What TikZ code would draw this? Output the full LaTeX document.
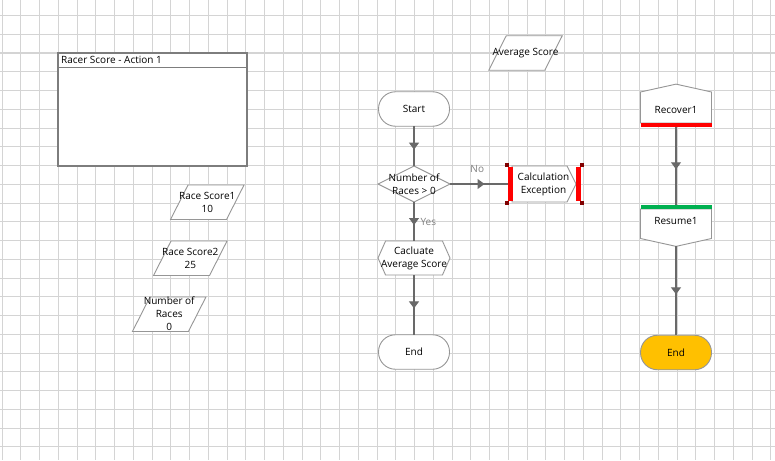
\documentclass[tikz,border=0pt]{standalone}
\usepackage{fontspec}
\setmainfont{Open Sans}
\usepackage{xcolor}
\usetikzlibrary{arrows.meta,positioning,shapes.geometric,shapes.symbols,decorations.markings}
\definecolor{GridGray}{RGB}{212,212,212}
\definecolor{ShapeGray}{RGB}{150,150,150}
\definecolor{FrameGray}{RGB}{125,125,125}
\definecolor{FlowGray}{RGB}{105,105,105}
\definecolor{LabelGray}{RGB}{128,128,128}
\definecolor{BarRed}{RGB}{255,0,0}
\definecolor{BarGreen}{RGB}{0,176,80}
\definecolor{HandleRed}{RGB}{128,0,0}
\definecolor{EndOrange}{RGB}{255,192,0}

\tikzset{
  txt/.style={font=\fontsize{10}{13}\selectfont, align=center, inner sep=0pt},
  lbl/.style={font=\fontsize{10}{13}\selectfont, text=LabelGray, inner sep=0pt},
  base/.style={draw=ShapeGray, line width=0.9pt, fill=white, inner sep=0pt, outer sep=0pt},
  terminal/.style={base, rectangle, rounded corners=17pt, minimum width=71pt, minimum height=34.5pt},
  pics/dataio/.style={code={
    \draw[base] (-19.25,-17.25) -- (36.75,-17.25) -- (19.25,17.25) -- (-36.75,17.25) -- cycle;}},
  decision/.style={base, diamond, aspect=2, minimum width=72pt, minimum height=36pt},
  process/.style={base, signal, signal to=east and west, signal pointer angle=132,
    minimum width=72pt, minimum height=34pt},
  exception/.style={base, signal, signal to=east, signal from=nowhere, signal pointer angle=127,
    minimum width=64pt, minimum height=36pt},
  recovery/.style={base, signal, signal pointer angle=155, minimum width=71pt},
  bar/.style={rectangle, inner sep=0pt, outer sep=0pt, minimum width=71pt, minimum height=4pt},
  exbar/.style={rectangle, fill=BarRed, inner sep=0pt, minimum width=5pt, minimum height=33.5pt},
  handle/.style={rectangle, fill=HandleRed, inner sep=0pt, minimum size=4pt},
  flow/.style={draw=FlowGray, line width=1.2pt, postaction={decorate},
    decoration={markings, mark=at position 0.5 with
      {\arrow[xshift=3.5pt, FlowGray]{Triangle[width=10pt,length=7pt]}}}}
}

\begin{document}
\begin{tikzpicture}[x=1pt, y=-1pt]
  \useasboundingbox (0,0) rectangle (775,460);
  \fill[white] (0,0) rectangle (775,460);

  % background grid
  \foreach \gx in {0,...,41}
    \draw[GridGray, line width=1pt] ({2+\gx*18.75},0) -- ({2+\gx*18.75},460);
  \foreach \gy in {0,...,23}
    \draw[GridGray, line width=1pt] (0,{15.5+\gy*18.75}) -- (775,{15.5+\gy*18.75});

  % action group
  \node[base, draw=FrameGray, line width=1.2pt, rectangle,
    minimum width=189pt, minimum height=113pt] (group) at (152.5,109.5) {};
  \node[txt, anchor=north west, inner xsep=3pt, minimum height=14pt] (grouptitle)
    at (group.north west) {Racer Score - Action 1};
  \draw[FrameGray, line width=1.2pt] (grouptitle.south -| group.west) -- (grouptitle.south -| group.east);

  % data
  \pic at (207.3,202.2) {dataio};
  \node[txt] (score1) at (207.3,202.2) {Race Score1\\10};
  \pic at (190.3,258.2) {dataio};
  \node[txt] (score2) at (190.3,258.2) {Race Score2\\25};
  \pic at (169.2,314.2) {dataio};
  \node[txt] (races) at (169.2,314.2) {Number of\\Races\\0};
  \pic at (525.5,53) {dataio};
  \node[txt] (average) at (525.5,53) {Average Score};

  % main flow
  \node[terminal, label={[txt]center:Start}] (start) at (414,109) {};
  \node[decision, label={[txt]center:Number of\\Races > 0}] (check) at (414,184) {};
  \node[exception, anchor=west] (calcexc) at (512,184) {};
  \node[txt] (calcexctext) at (543.5,184) {Calculation\\Exception};
  \node[process, label={[txt]center:Cacluate\\Average Score}] (calc) at (414,258) {};
  \node[terminal, label={[txt]center:End}] (end) at (414,352) {};

  % recovery flow
  \node[recovery, signal to=north, minimum height=31pt, anchor=south] (recover) at (676,123) {};
  \node[txt] at (676,110) {Recover1};
  \node[bar, fill=BarRed, below=0pt of recover] (recoverbar) {};
  \node[recovery, signal to=south, minimum height=29.5pt, anchor=north] (resume) at (676,209) {};
  \node[txt] at (676,221) {Resume1};
  \node[bar, fill=BarGreen, above=0.5pt of resume] (resumebar) {};
  \node[terminal, fill=EndOrange, label={[txt]center:End}] (endrec) at (676,352.5) {};

  \draw[flow] (start) -- (check);
  \draw[flow] (check) -- node[lbl, above=11pt, pos=0.44] {No} (calcexc);
  \draw[flow] (check) -- node[lbl, right=6pt, pos=0.5] {Yes} (calc);
  \draw[flow] (calc) -- (end);
  \draw[flow] (recoverbar) -- (resumebar);
  \draw[flow] (resume) -- (endrec);

  % selection marks
  \node[exbar] (exbarl) at (510.8,184) {};
  \node[exbar] (exbarr) at (578.2,184) {};
  \node[handle] (hnw) at (506.7,165) {};
  \node[handle] (hsw) at (506.7,203.3) {};
  \node[handle] (hne) at (582.3,165) {};
  \node[handle] (hse) at (582.3,203.3) {};
\end{tikzpicture}
\end{document}
